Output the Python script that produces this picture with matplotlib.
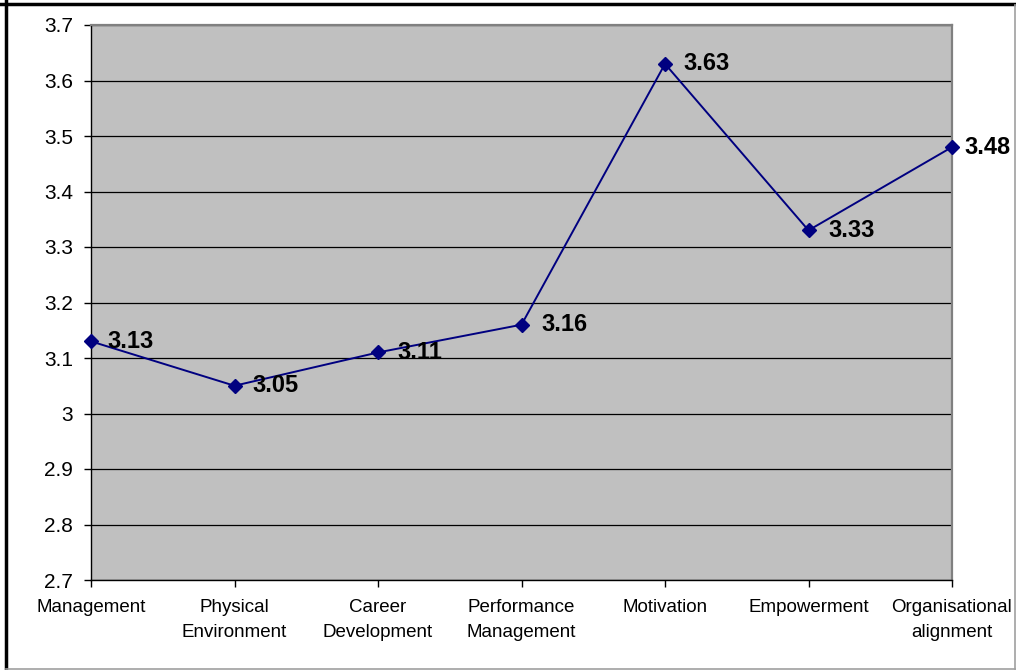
import matplotlib
matplotlib.use("Agg")
import matplotlib.pyplot as plt
from matplotlib.lines import Line2D

categories = ["Management", "Physical\nEnvironment", "Career\nDevelopment",
              "Performance\nManagement", "Motivation", "Empowerment",
              "Organisational\nalignment"]
scores = [3.13, 3.05, 3.11, 3.16, 3.63, 3.33, 3.48]
y_ticks = [2.7, 2.8, 2.9, 3.0, 3.1, 3.2, 3.3, 3.4, 3.5, 3.6, 3.7]
y_tick_labels = ["2.7", "2.8", "2.9", "3", "3.1", "3.2", "3.3", "3.4", "3.5", "3.6", "3.7"]

# horizontal offset (points) of each value label from its marker
label_offsets = [12, 13, 14, 14, 13, 14, 9]

plt.rcParams['font.family'] = ['Liberation Sans', 'DejaVu Sans']

fig = plt.figure(figsize=(10.16, 6.70), dpi=100)
ax = fig.add_axes([91/1016, 90/670, (952-91)/1016, (580-25)/670])

x = list(range(len(categories)))
ax.set_facecolor("#C0C0C0")
ax.plot(x, scores, color="#000080", linewidth=1.4, marker="D", markersize=7.5,
        markerfacecolor="#000080", markeredgecolor="#000080", zorder=3, clip_on=False)

for xi, v, off in zip(x, scores, label_offsets):
    ax.annotate(f"{v:.2f}", (xi, v), xytext=(off, 0), textcoords="offset points",
                ha="left", va="center", fontsize=17, fontweight="bold", color="black",
                annotation_clip=False)

ax.set_xlim(0, len(categories) - 1)
ax.set_ylim(2.7, 3.7)
ax.set_yticks(y_ticks)
ax.set_yticklabels(y_tick_labels, fontsize=15)
ax.set_xticks(x)
ax.set_xticklabels(categories, fontsize=13.5, linespacing=1.55)
ax.yaxis.grid(True, color="black", linewidth=0.9)
ax.set_axisbelow(True)

for s in ["top", "right"]:
    ax.spines[s].set_color("#808080")
    ax.spines[s].set_linewidth(1.6)
for s in ["left", "bottom"]:
    ax.spines[s].set_color("black")
    ax.spines[s].set_linewidth(1.0)
ax.tick_params(axis="y", direction="out", length=5, width=1, pad=8)
ax.tick_params(axis="x", direction="out", length=5, width=1, pad=9)

# outer frame around the whole figure
fig.add_artist(Line2D([6/1016, 6/1016], [0, 1], color="black", linewidth=2.5, transform=fig.transFigure))
fig.add_artist(Line2D([0, 1], [1 - 4/670, 1 - 4/670], color="black", linewidth=2.5, transform=fig.transFigure))
fig.add_artist(Line2D([1015/1016, 1015/1016], [0, 1 - 5/670], color="#A0A0A0", linewidth=1.2, transform=fig.transFigure))
fig.add_artist(Line2D([6/1016, 1], [1.5/670, 1.5/670], color="#A0A0A0", linewidth=1.2, transform=fig.transFigure))

fig.savefig("out.png", dpi=100)
